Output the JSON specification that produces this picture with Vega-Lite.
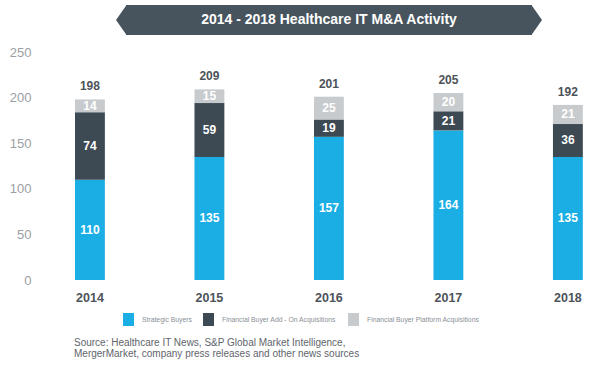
{
  "$schema": "https://vega.github.io/schema/vega-lite/v6.json",
  "padding": {"left": 9, "top": 5, "right": 0, "bottom": 0},
  "background": "white",
  "bounds": "flush",
  "spacing": 47,
  "config": {"view": {"stroke": null}, "font": "Liberation Sans"},
  "vconcat": [
    {
      "bounds": "flush",
      "spacing": 0,
      "hconcat": [
        {
          "width": 77,
          "height": 30,
          "data": {"values": []},
          "mark": {"type": "text"},
          "encoding": {}
        },
        {
          "width": 10,
          "height": 30,
          "data": {"values": [{"tip": "left"}]},
          "mark": {"type": "point", "shape": "M-0.333,0L0.37,-1L0.37,1Z", "size": 900, "filled": true, "color": "#47545e", "opacity": 1, "strokeWidth": 0},
          "encoding": {}
        },
        {
          "width": 406,
          "height": 30,
          "view": {"fill": "#47545e", "stroke": null},
          "data": {"values": [{"title": "2014 - 2018 Healthcare IT M&A Activity"}]},
          "mark": {"type": "text", "color": "white", "fontSize": 14, "fontWeight": "bold"},
          "encoding": {"text": {"field": "title"}}
        },
        {
          "width": 10,
          "height": 30,
          "data": {"values": [{"tip": "right"}]},
          "mark": {"type": "point", "shape": "M0.333,0L-0.37,-1L-0.37,1Z", "size": 900, "filled": true, "color": "#47545e", "opacity": 1, "strokeWidth": 0},
          "encoding": {}
        }
      ]
    },
    {
      "width": 561,
      "height": 228,
      "data": {"values": [
        {"year": "2014", "category": "Strategic Buyers", "order": 1, "value": 110},
        {"year": "2014", "category": "Financial Buyer Add - On Acquisitions", "order": 2, "value": 74},
        {"year": "2014", "category": "Financial Buyer Platform Acquisitions", "order": 3, "value": 14},
        {"year": "2015", "category": "Strategic Buyers", "order": 1, "value": 135},
        {"year": "2015", "category": "Financial Buyer Add - On Acquisitions", "order": 2, "value": 59},
        {"year": "2015", "category": "Financial Buyer Platform Acquisitions", "order": 3, "value": 15},
        {"year": "2016", "category": "Strategic Buyers", "order": 1, "value": 157},
        {"year": "2016", "category": "Financial Buyer Add - On Acquisitions", "order": 2, "value": 19},
        {"year": "2016", "category": "Financial Buyer Platform Acquisitions", "order": 3, "value": 25},
        {"year": "2017", "category": "Strategic Buyers", "order": 1, "value": 164},
        {"year": "2017", "category": "Financial Buyer Add - On Acquisitions", "order": 2, "value": 21},
        {"year": "2017", "category": "Financial Buyer Platform Acquisitions", "order": 3, "value": 20},
        {"year": "2018", "category": "Strategic Buyers", "order": 1, "value": 135},
        {"year": "2018", "category": "Financial Buyer Add - On Acquisitions", "order": 2, "value": 36},
        {"year": "2018", "category": "Financial Buyer Platform Acquisitions", "order": 3, "value": 21}
      ]},
      "title": {
        "text": ["Source: Healthcare IT News, S&P Global Market Intelligence,", "MergerMarket, company press releases and other news sources"],
        "orient": "bottom",
        "anchor": "start",
        "frame": "group",
        "fontSize": 10,
        "fontWeight": "normal",
        "color": "#5f656b",
        "lineHeight": 11.5,
        "dx": 35,
        "offset": 34
      },
      "transform": [
        {"stack": "value", "groupby": ["year"], "sort": [{"field": "order"}], "as": ["v0", "v1"]},
        {"calculate": "(datum.v0 + datum.v1) / 2", "as": "mid"}
      ],
      "encoding": {
        "x": {
          "field": "year",
          "type": "ordinal",
          "scale": {"paddingInner": 0.75, "paddingOuter": 0.2225, "align": 0.677},
          "axis": {"title": null, "labelAngle": 0, "ticks": false, "domain": false, "labelFontSize": 12.5, "labelFontWeight": "bold", "labelColor": "#4d5359", "labelPadding": 11}
        }
      },
      "layer": [
        {
          "mark": {"type": "bar"},
          "encoding": {
            "y": {
              "field": "v0",
              "type": "quantitative",
              "scale": {"domain": [0, 250], "nice": false, "zero": true, "padding": 0},
              "axis": {"title": null, "values": [0, 50, 100, 150, 200, 250], "grid": false, "ticks": false, "domain": false, "labelFontSize": 13, "labelColor": "#9aa0a6", "labelPadding": 8}
            },
            "y2": {"field": "v1"},
            "color": {
              "field": "category",
              "type": "nominal",
              "scale": {
                "domain": ["Strategic Buyers", "Financial Buyer Add - On Acquisitions", "Financial Buyer Platform Acquisitions"],
                "range": ["#1aaee5", "#3d4a54", "#c8cbce"]
              },
              "legend": {
                "orient": "none",
                "legendX": 83,
                "legendY": 308,
                "direction": "horizontal",
                "title": null,
                "symbolType": "M-0.85,-1H0.85V1H-0.85Z",
                "symbolSize": 169,
                "symbolStrokeWidth": 0,
                "labelFontSize": 6.8,
                "labelColor": "#8a9096",
                "columnPadding": 10,
                "labelOffset": 7,
                "padding": 0
              }
            }
          }
        },
        {
          "mark": {"type": "text", "color": "white", "fontWeight": "bold", "fontSize": 12},
          "encoding": {
            "y": {"field": "mid", "type": "quantitative", "scale": {"domain": [0, 250], "nice": false, "zero": true, "padding": 0}},
            "text": {"field": "value", "type": "quantitative"}
          }
        },
        {
          "transform": [{"aggregate": [{"op": "sum", "field": "value", "as": "total"}], "groupby": ["year"]}],
          "mark": {"type": "text", "color": "#4d5359", "fontWeight": "bold", "fontSize": 12, "baseline": "bottom", "dy": -6},
          "encoding": {
            "y": {"field": "total", "type": "quantitative", "scale": {"domain": [0, 250], "nice": false, "zero": true, "padding": 0}},
            "text": {"field": "total", "type": "quantitative"}
          }
        }
      ]
    }
  ]
}
